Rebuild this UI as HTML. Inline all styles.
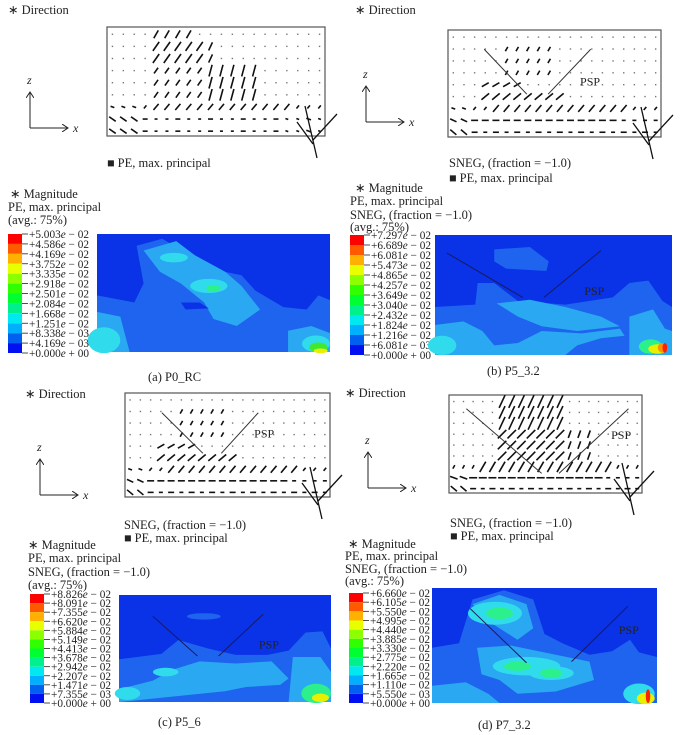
<!DOCTYPE html>
<html><head><meta charset="utf-8">
<style>
html,body{margin:0;padding:0;background:#fff;}
#fig{position:relative;width:680px;height:735px;overflow:hidden;}
svg text{font-family:"Liberation Serif",serif;fill:#222;}
</style></head>
<body>
<div id="fig">
<svg id="svg" width="680" height="735" viewBox="0 0 680 735" xmlns="http://www.w3.org/2000/svg">
<defs>
<marker id="ah" markerWidth="8" markerHeight="8" refX="6" refY="4" orient="auto"><path d="M0,0 L6,4 L0,8" fill="none" stroke="#222" stroke-width="1"/></marker>
</defs>
</svg>
</div>
<script>
// ---- colour legend data ----
const legendA = ["+5.003","+4.586","+4.169","+3.752","+3.335","+2.918","+2.501","+2.084","+1.668","+1.251","+8.338","+4.169","+0.000"];
const expA = ["02","02","02","02","02","02","02","02","02","02","03","03","00"];
const legendB = ["+7.297","+6.689","+6.081","+5.473","+4.865","+4.257","+3.649","+3.040","+2.432","+1.824","+1.216","+6.081","+0.000"];
const expB = ["02","02","02","02","02","02","02","02","02","02","02","03","00"];
const legendC = ["+8.826","+8.091","+7.355","+6.620","+5.884","+5.149","+4.413","+3.678","+2.942","+2.207","+1.471","+7.355","+0.000"];
const expC = ["02","02","02","02","02","02","02","02","02","02","02","03","00"];
const legendD = ["+6.660","+6.105","+5.550","+4.995","+4.440","+3.885","+3.330","+2.775","+2.220","+1.665","+1.110","+5.550","+0.000"];
const expD = ["02","02","02","02","02","02","02","02","02","02","02","03","00"];
const bandColors = ["#ff0000","#ff5a00","#ffb000","#e8ff00","#8cff00","#30ff00","#00ff30","#00f08c","#00e8f0","#00b0ff","#0060f0","#0010f0"];

const NS="http://www.w3.org/2000/svg";
const svg=document.getElementById('svg');
function el(tag,attrs,parent){const e=document.createElementNS(NS,tag);for(const k in attrs)e.setAttribute(k,attrs[k]);(parent||svg).appendChild(e);return e;}
function txt(x,y,s,size,parent,fill){const t=el('text',{x:x,y:y,'font-size':size||12},parent);if(fill)t.setAttribute('fill',fill);t.textContent=s;return t;}

function colorBar(x,y,h,vals,exps,name){
  const g=el('g',{});
  
  
  const bh=h/12;
  for(let i=0;i<12;i++){
    const r=el('rect',{x:x,y:y+i*bh,width:14,height:bh,fill:bandColors[i]},g);
    
    
  }
  for(let i=0;i<vals.length;i++){
    const yy=y+i*bh;
    el('line',{x1:x+14,y1:yy,x2:x+20,y2:yy,stroke:'#222','stroke-width':0.8},g);
    const t=el('text',{x:x+21,y:yy+4,'font-size':11.5,textLength:60,lengthAdjust:'spacingAndGlyphs'},g);
    
    
    const m=exps[i]==="00"?" + ":" − ";
    t.innerHTML=vals[i]+'<tspan font-style="italic">e</tspan>'+m+exps[i];
  }
}

function axes(x,y,name){
  const g=el('g',{});
  
  
  el('line',{x1:x,y1:y,x2:x,y2:y-36,stroke:'#222','stroke-width':1,'marker-end':'url(#ah)'},g);
  el('line',{x1:x,y1:y,x2:x+38,y2:y,stroke:'#222','stroke-width':1,'marker-end':'url(#ah)'},g);
  const z=txt(x-3,y-44,'z',12,g);z.setAttribute('font-style','italic');
  const xx=txt(x+43,y+4,'x',12,g);xx.setAttribute('font-style','italic');
}

function vectors(x0,y0,w,h,field,name,psp){
  const g=el('g',{});
  
  
  el('rect',{x:x0,y:y0,width:w,height:h,fill:'#fff',stroke:'#555','stroke-width':1.2},g);
  const cols=20,rows=9,dx=w/cols,dy=h/rows;
  for(let r=0;r<rows;r++)for(let c=0;c<cols;c++){
    const cx=x0+dx*(c+0.5),cy=y0+dy*(r+0.6);
    const f=field(c,r);
    if(!f||f[1]<=1.5){el('rect',{x:cx-0.7,y:cy-0.7,width:1.4,height:1.4,fill:'#777'},g);continue;}
    const a=f[0]*Math.PI/180,l=f[1]/2;
    el('line',{x1:cx-Math.cos(a)*l,y1:cy+Math.sin(a)*l,x2:cx+Math.cos(a)*l,y2:cy-Math.sin(a)*l,stroke:'#111','stroke-width':1.6},g);
  }
  const bx=x0+w,by=y0+h;
  el('line',{x1:bx-20,y1:by-30,x2:bx-8,y2:by+22,stroke:'#111','stroke-width':1.3},g);
  el('line',{x1:bx-28,y1:by-14,x2:bx-12,y2:by+8,stroke:'#111','stroke-width':1.3},g);
  el('line',{x1:bx-12,y1:by+4,x2:bx+12,y2:by-22,stroke:'#111','stroke-width':1.3},g);
  if(psp){
    el('line',{x1:x0+w*psp[0],y1:y0+h*psp[1],x2:x0+w*psp[2],y2:y0+h*psp[3],stroke:'#333','stroke-width':1},g);
    el('line',{x1:x0+w*psp[4],y1:y0+h*psp[5],x2:x0+w*psp[6],y2:y0+h*psp[7],stroke:'#333','stroke-width':1},g);
    const t=txt(x0+w*psp[8],y0+h*psp[9],'PSP',12,g,'#d01818');
    
    
  }
}
function fieldA(c,r){
  if(r>=7) return [c<3?-35:c>15?-20:0,c<3?8:c%3==0?5:3];
  if(r==6) return [c<3?-20:50,(c>=4&&c<17)?8:4];
  if(c>=4&&c<=8&&r>=1) return [55,r<3?11:7];
  if(c>=4&&c<=7&&r==0) return [60,9];
  if(c>=9&&c<=13&&r>=3&&r<=5) return [75,12];
  if(c>=7&&c<=9&&r>=1&&r<=4) return [65,9];
  return null;
}
function fieldB(c,r){
  if(r==8) return [c<2?-40:0,c<2?8:c%2?4:6];
  if(r==7) return [c<2?-25:0,c<16?7:4];
  if(r==6) return [c<2?-20:50,c>=4&&c<17?9:4];
  if(r==5&&c>=3&&c<=10) return [40,10];
  if(r==4&&c>=3&&c<=6) return [30,8];
  if(r>=1&&r<=3&&c>=5&&c<=9) return [60,5];
  return null;
}
function fieldD(c,r){
  if(r==8) return [c<2?-40:0,c<2?8:c%2?4:6];
  if(r==7) return [c<2?-20:0,c<16?8:4];
  if(r==6) return [60,c>=3&&c<17?12:4];
  if(r>=0&&r<=5&&c>=5&&c<=11) return [r<3?65:45,r<3?14:12];
  if(r>=3&&r<=5&&c>=12&&c<=14) return [70,8];
  return null;
}

function contour(x,y,w,h,shapes,name,psp){
  const g=el('g',{});
  
  
  el('rect',{x:x,y:y,width:w,height:h,fill:'#0a32e6'},g);
  const s=el('g',{transform:`translate(${x},${y}) scale(${w/100},${h/100})`},g);
  shapes.forEach(sh=>{
    if(sh[0]==='p') el('polygon',{points:sh[2],fill:sh[1]},s);
    else el('ellipse',{cx:sh[2],cy:sh[3],rx:sh[4],ry:sh[5],fill:sh[1]},s);
  });
  if(psp){
    el('line',{x1:x+w*psp[0],y1:y+h*psp[1],x2:x+w*psp[2],y2:y+h*psp[3],stroke:'#1a1a60','stroke-width':1},g);
    el('line',{x1:x+w*psp[4],y1:y+h*psp[5],x2:x+w*psp[6],y2:y+h*psp[7],stroke:'#1a1a60','stroke-width':1},g);
    txt(x+w*psp[8],y+h*psp[9],'PSP',12,g,'#c01830');
  }
}
const M='#1e64ee',L='#2aa8f2',C='#30dcec',G='#2cf08c',GG='#40e830',Y='#e8f000',O='#ff9000',R='#ff2000';

// Panel (a)
txt(8,14,'∗ Direction',12.5);
axes(30,128,'axes-a');
vectors(107,27,218,109,fieldA,'vector-plot-a');
txt(107,167,'■  PE, max. principal',12.5);
txt(10,198,'∗ Magnitude',12.5);txt(8,211,'PE, max. principal',12.5);txt(8,224,'(avg.: 75%)',12.5);
colorBar(8,234,119,legendA,expA,'color-legend-a');
contour(97,234,233,118,[
 ['p',M,'0,52 8,55 16,58 20,42 17,10 28,4 40,18 50,30 62,35 68,48 80,62 90,64 95,52 100,56 100,100 0,100'],
 ['p',L,'20,14 34,6 42,18 55,32 62,44 70,64 60,78 50,72 46,58 36,42 27,32'],
 ['p',L,'0,66 10,70 14,100 0,100'],
 ['p',L,'82,82 92,78 100,84 100,100 82,100'],
 ['p','#0a32e6','36,58 44,58 48,63 38,64'],
 ['e',C,33,20,6,4],['e',C,48,44,8,6],['e',G,50,46,3,3],['e',C,3,90,7,11],
 ['e',C,94,93,6,7],['e',GG,95,96,4,4],['e',Y,96,99,3,2]
],'contour-plot-a');
txt(148,381,'(a)  P0_RC',12.5);

// Panel (b)
txt(355,14,'∗ Direction',12.5);
axes(366,122,'axes-b');
vectors(448,30,213,107,fieldB,'vector-plot-b',[0.17,0.18,0.37,0.6, 0.47,0.6,0.67,0.18, 0.62,0.52]);
txt(449,167,'SNEG, (fraction = −1.0)',12.5);txt(449,182,'■  PE, max. principal',12.5);
txt(355,192,'∗ Magnitude',12.5);txt(350,205,'PE, max. principal',12.5);txt(350,219,'SNEG, (fraction = −1.0)',12.5);txt(350,231,'(avg.: 75%)',12.5);
colorBar(350,235,120,legendB,expB,'color-legend-b');
contour(435,235,237,120,[
 ['p',M,'0,60 17,58 18,40 25,40 35,55 55,58 75,52 82,40 90,38 96,55 100,60 100,100 0,100'],
 ['p',M,'25,12 40,10 48,22 47,30 30,28 25,22'],
 ['p',L,'0,75 12,72 20,80 25,92 35,90 45,80 62,82 78,78 80,84 70,86 60,92 55,100 0,100'],
 ['p',L,'26,57 40,54 55,60 70,68 78,76 60,80 45,76 35,68'],
 ['p',L,'82,68 92,62 97,78 100,80 100,100 82,100'],
 ['e',C,3,92,6,8],['e',G,91,93,5,6],['e',Y,94,95,4,4],['e',O,96,94,2,4],['e',R,97,94,1,4]
],'contour-plot-b',[0.05,0.15,0.37,0.52, 0.46,0.52,0.7,0.13, 0.63,0.5]);
txt(487,375,'(b)  P5_3.2',12.5);

// Panel (c)
txt(25,398,'∗ Direction',12.5);
axes(40,495,'axes-c');
vectors(125,393,205,104,fieldB,'vector-plot-c',[0.18,0.19,0.38,0.58, 0.47,0.58,0.65,0.19, 0.63,0.43]);
txt(124,529,'SNEG, (fraction = −1.0)',12.5);txt(124,542,'■  PE, max. principal',12.5);
txt(28,549,'∗ Magnitude',12.5);txt(28,562,'PE, max. principal',12.5);txt(28,576,'SNEG, (fraction = −1.0)',12.5);txt(28,589,'(avg.: 75%)',12.5);
colorBar(30,594,109,legendC,expC,'color-legend-c');
contour(119,595,212,107,[
 ['p',M,'0,60 20,55 28,42 42,50 55,56 70,56 80,52 88,35 96,34 100,50 100,100 0,100'],
 ['e',M,40,20,8,3],
 ['p',L,'0,88 16,80 25,70 38,62 55,64 72,62 80,78 76,84 60,86 50,90 0,100'],
 ['p',L,'82,58 95,58 100,72 100,100 80,100'],
 ['e',C,22,72,6,4],['e',C,4,92,6,6],['e',G,93,92,7,9],['e',Y,95,96,4,4]
],'contour-plot-c',[0.16,0.2,0.37,0.57, 0.47,0.57,0.68,0.18, 0.66,0.5]);
txt(158,726,'(c)  P5_6',12.5);

// Panel (d)
txt(345,397,'∗ Direction',12.5);
axes(368,488,'axes-d');
vectors(449,395,193,98,fieldD,'vector-plot-d',[0.09,0.14,0.48,0.8, 0.57,0.8,0.93,0.14, 0.84,0.45]);
txt(450,527,'SNEG, (fraction = −1.0)',12.5);txt(450,540,'■  PE, max. principal',12.5);
txt(348,548,'∗ Magnitude',12.5);txt(345,560,'PE, max. principal',12.5);txt(345,573,'SNEG, (fraction = −1.0)',12.5);txt(345,585,'(avg.: 75%)',12.5);
colorBar(349,593,110,legendD,expD,'color-legend-d');
contour(432,588,225,115,[
 ['p',M,'0,52 12,48 18,10 32,2 45,10 50,40 58,48 70,58 80,55 88,45 92,56 100,60 100,100 0,100'],
 ['p',L,'18,14 30,6 42,14 45,35 38,45 26,30'],
 ['p',L,'20,52 35,50 55,58 70,64 72,80 55,90 38,92 30,80 22,75'],
 ['p',L,'0,85 15,82 25,92 30,100 0,100'],
 ['e',C,28,22,12,10],['e',G,30,22,6,5],
 ['e',C,42,68,15,8],['e',G,38,68,6,4],['e',C,53,74,10,6],['e',G,53,74,5,4],
 ['e',C,92,92,7,9],['e',Y,95,96,4,5],['e',R,96,94,1,6]
],'contour-plot-d',[0.17,0.18,0.42,0.65, 0.62,0.64,0.87,0.16, 0.83,0.4]);
txt(478,729,'(d)  P7_3.2',12.5);
</script>
</body></html>
